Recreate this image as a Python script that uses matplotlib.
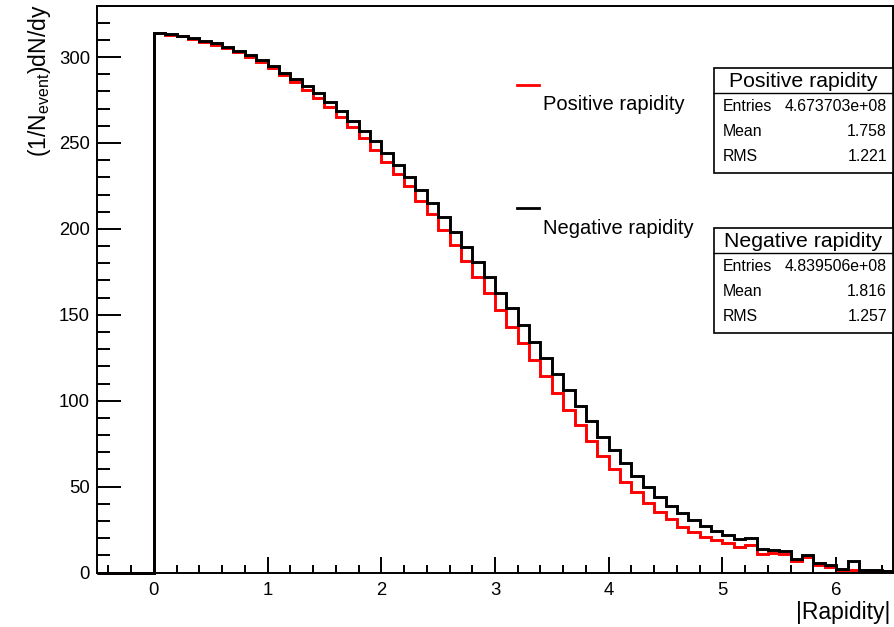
import numpy as np
import matplotlib
matplotlib.use('Agg')
import matplotlib.pyplot as plt
from matplotlib.ticker import MultipleLocator
from matplotlib.patches import Rectangle
from matplotlib.lines import Line2D

plt.rcParams['font.family'] = ['Liberation Sans', 'DejaVu Sans']
plt.rcParams['mathtext.fontset'] = 'custom'
plt.rcParams['mathtext.rm'] = 'Liberation Sans'

# histogram binning (|rapidity|), 70 bins of 0.1 from -0.5 to 6.5
bin_lo = -0.5
bin_hi = 6.5
n_bins = 70

# (1/N_event) dN/dy per bin
positive = [0, 0, 0, 0, 0,
            314.0, 313.0, 312.0, 310.5, 309.0, 307.3, 305.2, 302.7, 300.2, 297.0,
            293.5, 289.5, 285.6, 281.1, 275.9, 271.0, 265.2, 259.0, 252.6, 245.8,
            239.0, 231.8, 224.7, 216.3, 208.4, 199.2, 190.5, 181.4, 172.1, 162.4,
            152.7, 143.0, 133.3, 123.6, 114.4, 104.6, 94.7, 85.8, 76.8, 68.0,
            60.0, 52.8, 46.9, 40.7, 35.3, 31.0, 26.6, 23.7, 20.7, 18.8,
            17.2, 14.9, 15.9, 10.7, 11.4, 10.7, 6.5, 9.1, 4.2, 3.3,
            1.7, 1.6, 0.7, 0.7, 0.6]
negative = [0, 0, 0, 0, 0,
            314.0, 313.2, 312.2, 310.8, 309.3, 307.9, 306.0, 303.6, 301.0, 298.2,
            295.0, 291.0, 287.3, 283.4, 279.0, 273.8, 268.6, 263.0, 257.0, 250.9,
            244.1, 237.1, 230.3, 222.9, 214.8, 207.0, 198.3, 189.5, 180.8, 172.1,
            162.6, 153.7, 144.0, 134.4, 124.8, 115.6, 106.1, 96.9, 88.3, 79.1,
            71.2, 63.6, 56.0, 49.5, 44.0, 38.6, 34.7, 30.8, 26.9, 24.2,
            22.1, 19.6, 19.8, 13.6, 13.0, 12.6, 7.9, 10.1, 5.6, 4.2,
            2.3, 6.7, 1.3, 1.2, 1.1]

# stat box contents
stat_titles = ['Positive rapidity', 'Negative rapidity']
stat_entries = ['4.673703e+08', '4.839506e+08']
stat_mean = ['1.758', '1.816']
stat_rms = ['1.221', '1.257']

W, H = 895, 627


def fx(px):
    return px / W


def fy(py):
    return 1 - py / H


def main():
    edges = np.linspace(bin_lo, bin_hi, n_bins + 1)

    fig = plt.figure(figsize=(8.95, 6.27), dpi=100)
    ax = fig.add_axes([fx(97), fy(572.5), fx(893) - fx(97), fy(5.5) - fy(572.5)])

    ax.stairs(positive, edges, color='#ff0000', lw=2.1, baseline=0, clip_on=False)
    ax.stairs(negative, edges, color='black', lw=2.1, baseline=0, clip_on=False)

    ax.set_xlim(bin_lo, bin_hi)
    ax.set_ylim(0, 330)

    ax.xaxis.set_major_locator(MultipleLocator(1))
    ax.xaxis.set_minor_locator(MultipleLocator(0.2))
    ax.yaxis.set_major_locator(MultipleLocator(50))
    ax.yaxis.set_minor_locator(MultipleLocator(10))
    ax.tick_params(axis='both', which='both', direction='in', top=False, right=False,
                   width=1.4, labelsize=13.3)
    ax.tick_params(axis='y', which='major', length=17, pad=5)
    ax.tick_params(axis='y', which='minor', length=9)
    ax.tick_params(axis='x', which='major', length=11.5, pad=7)
    ax.tick_params(axis='x', which='minor', length=6)
    for s in ax.spines.values():
        s.set_linewidth(1.4)

    # axis titles, ROOT style
    fig.text(fx(890), fy(612), '|Rapidity|', ha='right', va='center', fontsize=16.5)
    fig.text(fx(40), fy(4), r'(1/N$_{\mathregular{event}}$)dN/dy', rotation=90,
             ha='center', va='top', fontsize=16.5)

    # legend
    leg_cols = ['#ff0000', 'black']
    leg_line_y = [85, 208]
    for lab, c, ly in zip(stat_titles, leg_cols, leg_line_y):
        fig.add_artist(Line2D([fx(517), fx(539)], [fy(ly), fy(ly)], color=c, lw=2.0,
                              transform=fig.transFigure))
        fig.text(fx(543), fy(ly + 20), lab, ha='left', va='center', fontsize=14.5)

    # stat boxes
    box_top = [68, 228]
    for i in range(2):
        top = box_top[i]
        left, right = 714, 893
        fig.add_artist(Rectangle((fx(left), fy(top + 105)), fx(right) - fx(left),
                                 fy(top) - fy(top + 105), transform=fig.transFigure,
                                 facecolor='white', edgecolor='black', lw=1.2, zorder=5))
        fig.add_artist(Line2D([fx(left), fx(right)], [fy(top + 24.5), fy(top + 24.5)],
                              color='black', lw=1.0, transform=fig.transFigure, zorder=6))
        fig.text(fx((left + right) / 2), fy(top + 13.5), stat_titles[i], ha='center',
                 va='center', fontsize=15.3, zorder=7)
        rows = [('Entries', stat_entries[i]), ('Mean', stat_mean[i]), ('RMS', stat_rms[i])]
        for j, (k, v) in enumerate(rows):
            yy = top + 38.5 + 25 * j
            fig.text(fx(left + 9), fy(yy), k, ha='left', va='center', fontsize=11.4, zorder=7)
            fig.text(fx(right - 6), fy(yy), v, ha='right', va='center', fontsize=11.4, zorder=7)

    fig.savefig('out.png', dpi=100)


if __name__ == "__main__":
    main()
